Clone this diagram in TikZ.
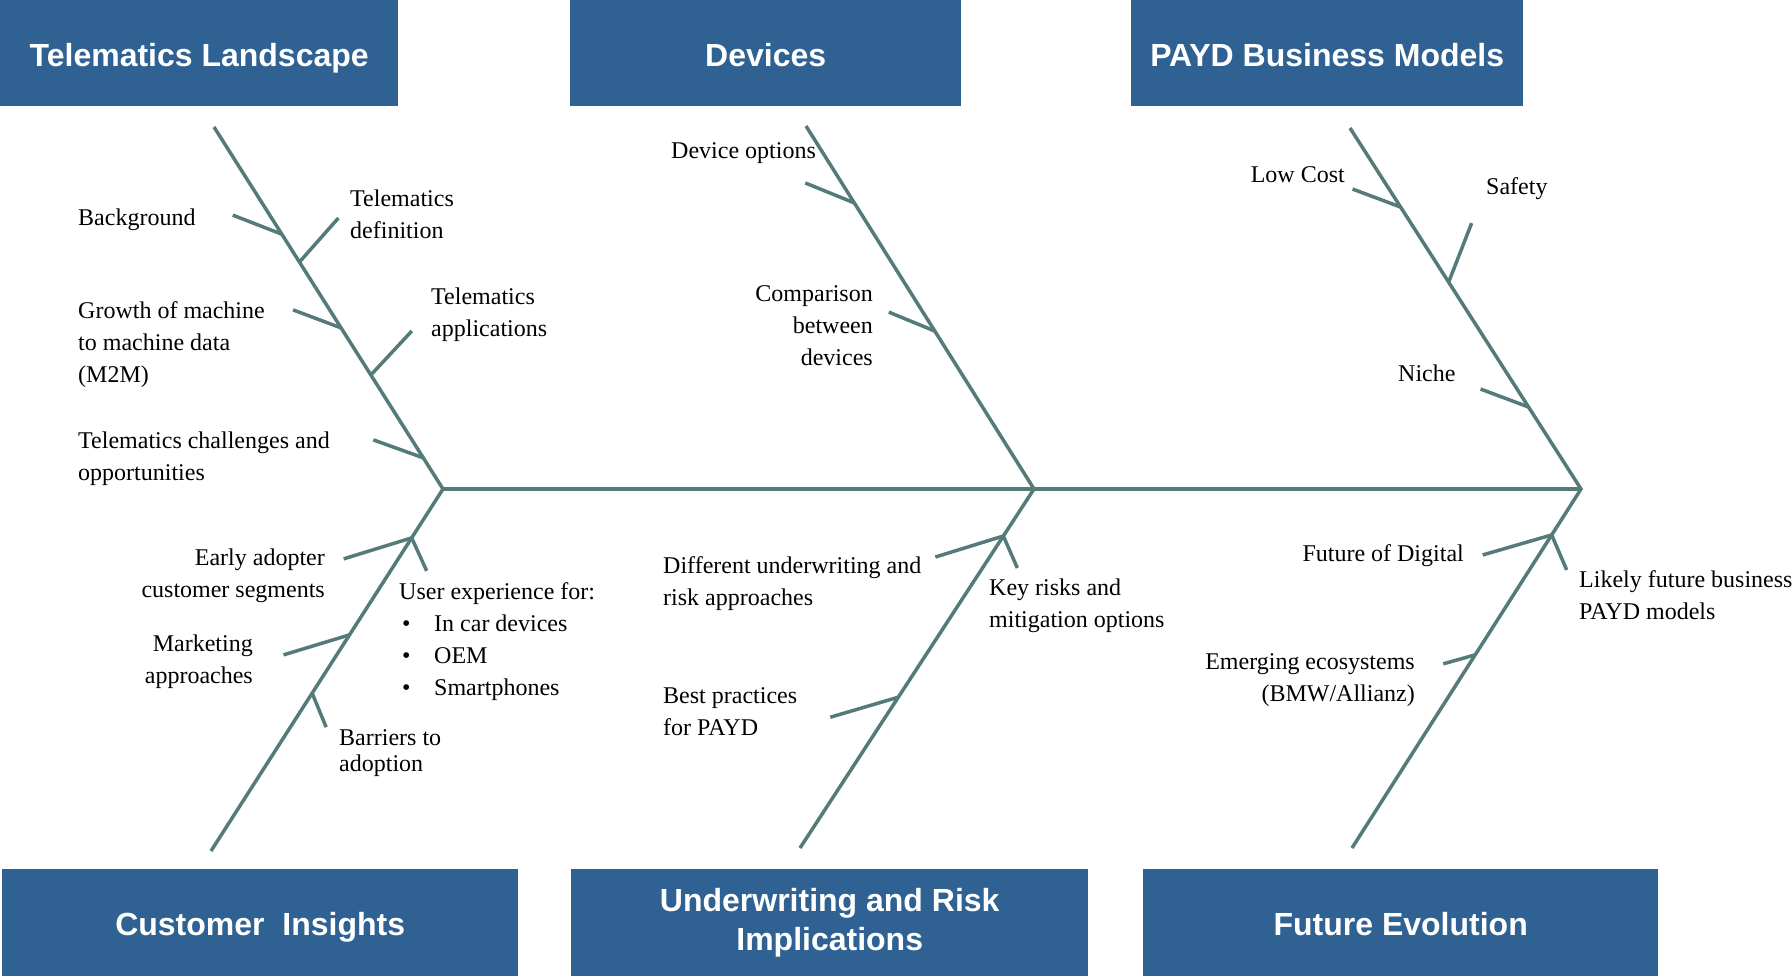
\documentclass[tikz,border=0pt]{standalone}
\usepackage{fontspec}
\setmainfont{Liberation Serif}
\newfontfamily\headfont{Liberation Sans}
\usetikzlibrary{calc}

\definecolor{headblue}{RGB}{47,98,147}
\definecolor{bonegray}{RGB}{84,122,122}

\tikzset{
  head/.style={fill=headblue,text=white,inner sep=0pt,anchor=north west,align=center,
    font=\headfont\bfseries\fontsize{32}{39}\selectfont},
  headline/.style={head,text height=26pt,text depth=0pt},
  bone/.style={draw=bonegray,line width=3.5pt},
  cause/.style={inner sep=0pt,yshift=-3pt,font=\fontsize{24}{32}\selectfont},
}

\begin{document}
\begin{tikzpicture}[x=1pt,y=-1pt]
\clip (0,0) rectangle (1792,976);

\draw node [headline,minimum width=398pt,minimum height=106pt] at (0,0) (landscape){Telematics Landscape};
\draw node [headline,minimum width=391pt,minimum height=106pt] at (570,0) (devices){Devices};
\draw node [headline,minimum width=392pt,minimum height=106pt] at (1131,0) (payd){PAYD Business Models};
\draw node [headline,minimum width=516pt,minimum height=107pt] at (2,869) (insights){Customer~ Insights};
\draw node [head,minimum width=517pt,minimum height=107pt] at (571,869) (underwriting){Underwriting and Risk\\Implications};
\draw node [headline,minimum width=515pt,minimum height=107pt] at (1143,869) (evolution){Future Evolution};

\coordinate (lt) at (214,127);
\coordinate (lv) at (443,489);
\coordinate (lb) at (211,851);
\coordinate (mt) at (806,126);
\coordinate (mv) at (1034,489);
\coordinate (mb) at (800,848);
\coordinate (rt) at (1350,128);
\coordinate (rv) at (1581,489);
\coordinate (rb) at (1352,848);

\draw[bone] (lt) -- (lv) -- (lb);
\draw[bone] (mt) -- (mv) -- (mb);
\draw[bone] (rt) -- (rv) -- (rb);
\draw[bone] (lv) -- (rv);

\coordinate (background) at ($(lt)!0.296!(lv)$);
\draw[bone] (background) -- ++(-49,-19) coordinate (background-end);
\coordinate (definition) at ($(lt)!0.373!(lv)$);
\draw[bone] (definition) -- ++(39,-44) coordinate (definition-end);
\coordinate (growth) at ($(lt)!0.555!(lv)$);
\draw[bone] (growth) -- ++(-48,-18) coordinate (growth-end);
\coordinate (applications) at ($(lt)!0.685!(lv)$);
\draw[bone] (applications) -- ++(41,-44) coordinate (applications-end);
\coordinate (challenges) at ($(lt)!0.914!(lv)$);
\draw[bone] (challenges) -- ++(-50,-18) coordinate (challenges-end);

\coordinate (adopter) at ($(lv)!0.135!(lb)$);
\draw[bone] (adopter) -- ++(-68,21) coordinate (adopter-end);
\draw[bone] (adopter) -- ++(15,33) coordinate (userexp-end);
\coordinate (marketing) at ($(lv)!0.403!(lb)$);
\draw[bone] (marketing) -- ++(-66,20) coordinate (marketing-end);
\coordinate (barriers) at ($(lv)!0.564!(lb)$);
\draw[bone] (barriers) -- ++(14,34) coordinate (barriers-end);

\coordinate (options) at ($(mt)!0.212!(mv)$);
\draw[bone] (options) -- ++(-49,-20) coordinate (options-end);
\coordinate (comparison) at ($(mt)!0.565!(mv)$);
\draw[bone] (comparison) -- ++(-46,-19) coordinate (comparison-end);

\coordinate (approaches) at ($(mv)!0.131!(mb)$);
\draw[bone] (approaches) -- ++(-68,21) coordinate (approaches-end);
\draw[bone] (approaches) -- ++(14,32) coordinate (risks-end);
\coordinate (practices) at ($(mv)!0.58!(mb)$);
\draw[bone] (practices) -- ++(-68,20) coordinate (practices-end);

\coordinate (lowcost) at ($(rt)!0.219!(rv)$);
\draw[bone] (lowcost) -- ++(-48,-18) coordinate (lowcost-end);
\coordinate (safety) at ($(rt)!0.427!(rv)$);
\draw[bone] (safety) -- ++(23,-59) coordinate (safety-end);
\coordinate (niche) at ($(rt)!0.773!(rv)$);
\draw[bone] (niche) -- ++(-48,-18) coordinate (niche-end);

\coordinate (digital) at ($(rv)!0.128!(rb)$);
\draw[bone] (digital) -- ++(-69,20) coordinate (digital-end);
\draw[bone] (digital) -- ++(15,35) coordinate (likely-end);
\coordinate (ecosystems) at ($(rv)!0.462!(rb)$);
\draw[bone] (ecosystems) -- ++(-32,9) coordinate (ecosystems-end);

\draw node [cause,anchor=west] at (78,217) (backgroundtxt){Background};
\draw node [cause,anchor=west,align=left] at (350,211) (definitiontxt){Telematics\\definition};
\draw node [cause,anchor=west,align=left] at (78,342) (growthtxt){Growth of machine\\to machine data\\(M2M)};
\draw node [cause,anchor=west,align=left] at (431,312) (applicationstxt){Telematics\\applications};
\draw node [cause,anchor=west,align=left] at (78,456) (challengestxt){Telematics challenges and\\opportunities};

\draw node [cause,anchor=east,align=right] at (325,573) (adoptertxt){Early adopter\\customer segments};
\draw node [cause,anchor=west,align=left] at (399,639) (userexptxt){User experience for:\\
  \hspace{3pt}\makebox[32pt][l]{\textbullet}In car devices\\
  \hspace{3pt}\makebox[32pt][l]{\textbullet}OEM\\
  \hspace{3pt}\makebox[32pt][l]{\textbullet}Smartphones};
\draw node [cause,anchor=east,align=right] at (253,659) (marketingtxt){Marketing\\approaches};
\draw node [cause,anchor=west,align=left] at (339,750) (barrierstxt){Barriers to\\[-6pt]adoption};

\draw node [cause,anchor=west] at (671,150) (optionstxt){Device options};
\draw node [cause,anchor=east,align=right] at (873,323) (comparisontxt){Comparison\\between\\devices};
\draw node [cause,anchor=west,align=left] at (663,581) (approachestxt){Different underwriting and\\risk approaches};
\draw node [cause,anchor=west,align=left] at (989,603) (riskstxt){Key risks and\\mitigation options};
\draw node [cause,anchor=west,align=left] at (663,709) (practicestxt){Best practices\\for PAYD};

\draw node [cause,anchor=east] at (1345,172) (lowcosttxt){Low Cost};
\draw node [cause,anchor=west] at (1486,186) (safetytxt){Safety};
\draw node [cause,anchor=west] at (1398,370) (nichetxt){Niche};
\draw node [cause,anchor=east] at (1464,553) (digitaltxt){Future of Digital};
\draw node [cause,anchor=west,align=left] at (1579,592) (likelytxt){Likely future business\\PAYD models};
\draw node [cause,anchor=east,align=right] at (1415,677) (ecosystemstxt){Emerging ecosystems\\(BMW/Allianz)};

\end{tikzpicture}
\end{document}
